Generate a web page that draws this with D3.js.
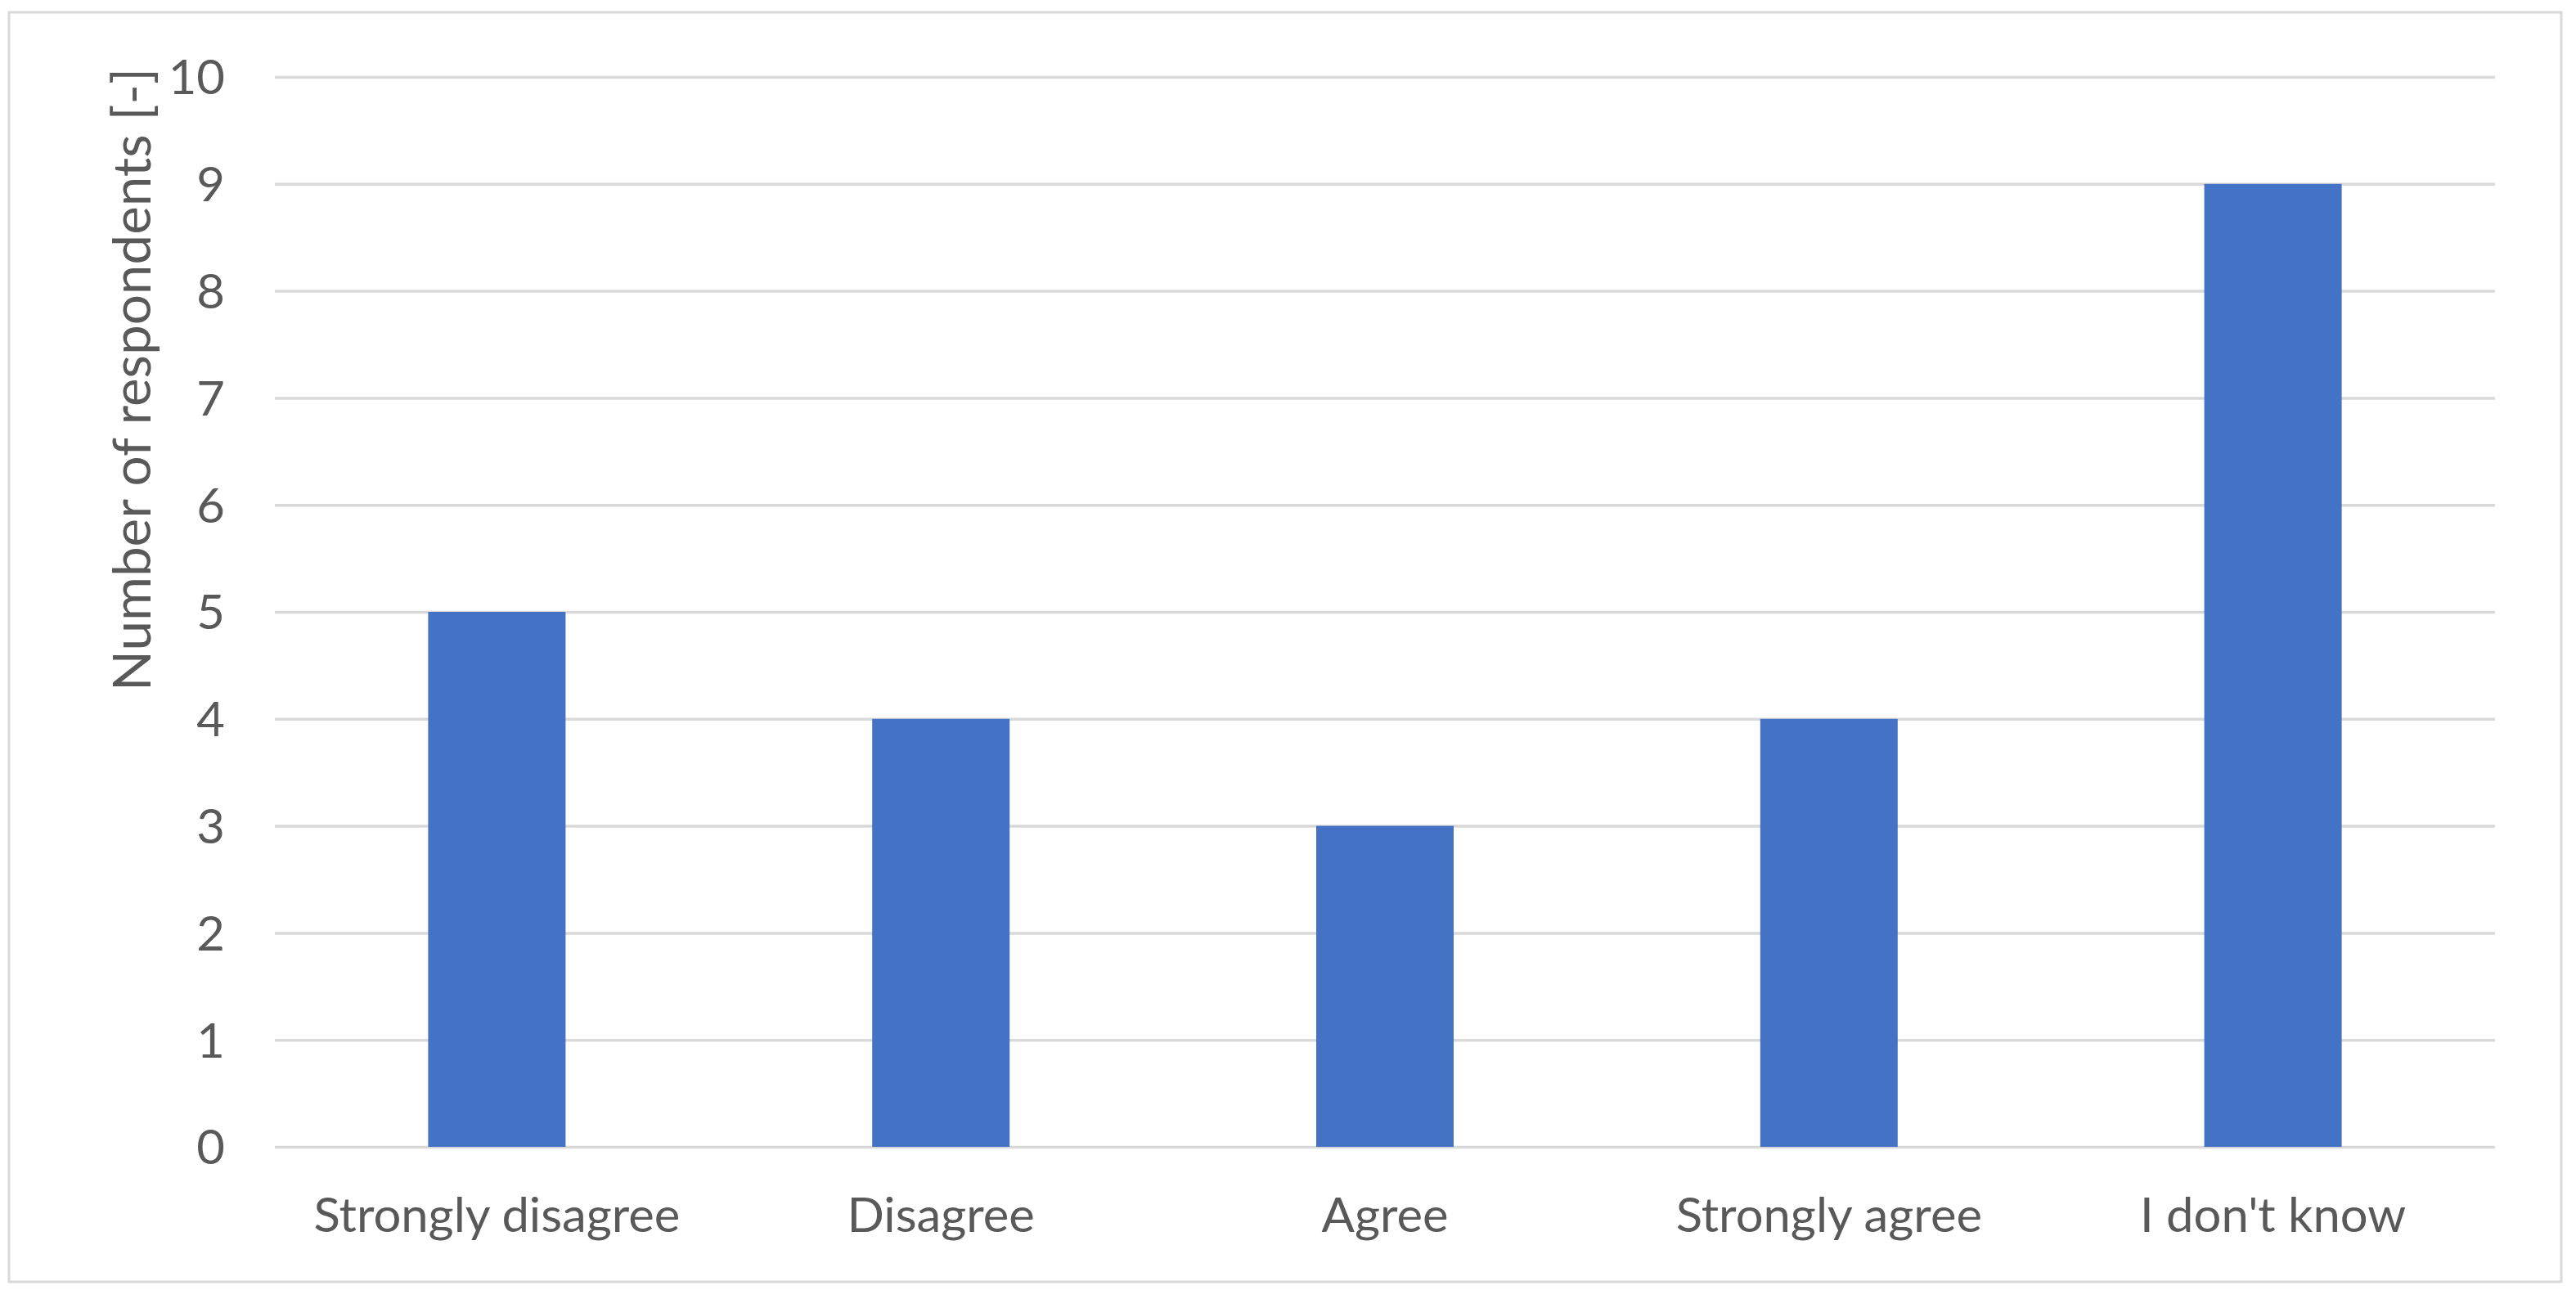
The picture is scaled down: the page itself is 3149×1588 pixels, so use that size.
<!DOCTYPE html>
<html>
<head>
<meta charset="utf-8">
<script src="https://cdn.jsdelivr.net/npm/d3@7"></script>
<style>
  html, body { margin: 0; padding: 0; background: #ffffff; }
  svg { display: block; }
</style>
</head>
<body>
<script>
// ---- data ----
const categories = ["Strongly disagree", "Disagree", "Agree", "Strongly agree", "I don't know"];
const values = [5, 4, 3, 4, 9];
const yTicks = [0, 1, 2, 3, 4, 5, 6, 7, 8, 9, 10];
const yTitle = "Number of respondents [-]";

// ---- layout ----
const W = 3149, H = 1588;
const plot = { left: 336, right: 3050, top: 94, bottom: 1402 };
const FONT = "Lato, 'Open Sans', sans-serif";
const TEXT = "#595959";
const GRID = "#d9d9d9";
const BAR = "#4472C4";

const svg = d3.select("body").append("svg").attr("width", W).attr("height", H);

svg.append("rect").attr("x", 0).attr("y", 0).attr("width", W).attr("height", H).attr("fill", "#fff");
svg.append("rect")
  .attr("x", 11).attr("y", 15).attr("width", 3131 - 11).attr("height", 1567 - 15)
  .attr("fill", "none").attr("stroke", GRID).attr("stroke-width", 3);

const x = d3.scaleBand().domain(categories).range([plot.left, plot.right])
  .paddingInner(0.6905).paddingOuter(0.34525);
const y = d3.scaleLinear().domain([0, 10]).range([plot.bottom, plot.top]);

// gridlines via axis
const yGrid = svg.append("g").attr("transform", `translate(${plot.left},0)`)
  .call(d3.axisLeft(y).tickValues(yTicks).tickSize(-(plot.right - plot.left)).tickFormat(""));
yGrid.select(".domain").remove();
yGrid.selectAll(".tick line").attr("stroke", GRID).attr("stroke-width", 3.5);

// y tick labels via axis
const yAxis = svg.append("g").attr("transform", `translate(275,0)`)
  .call(d3.axisLeft(y).tickValues(yTicks).tickSize(0).tickPadding(0).tickFormat(d3.format("d")));
yAxis.select(".domain").remove();
yAxis.selectAll(".tick text")
  .attr("font-family", FONT).attr("font-size", 58).attr("fill", TEXT)
  .attr("x", 0).attr("dy", "0.36em").attr("text-anchor", "end");

// bars
svg.append("g").selectAll("rect").data(values).join("rect")
  .attr("x", (d, i) => x(categories[i]))
  .attr("width", x.bandwidth())
  .attr("y", d => y(d))
  .attr("height", d => y(0) - y(d))
  .attr("fill", BAR);

// x labels via axis
const xAxis = svg.append("g").attr("transform", `translate(0,1506)`)
  .call(d3.axisBottom(x).tickSize(0).tickPadding(0));
xAxis.select(".domain").remove();
const xTexts = xAxis.selectAll(".tick text")
  .attr("font-family", FONT).attr("font-size", 58).attr("fill", TEXT)
  .attr("y", 0).attr("dy", 0).attr("text-anchor", "middle");

// horizontal compression to mimic a narrower face (Calibri-like)
let k = 1;
xTexts.each(function(d) {
  if (d === categories[0]) k = 448 / this.getComputedTextLength();
});
xTexts.each(function() {
  const w = this.getComputedTextLength();
  d3.select(this).attr("textLength", w * k).attr("lengthAdjust", "spacingAndGlyphs");
});
yAxis.selectAll(".tick text").each(function() {
  const w = this.getComputedTextLength();
  d3.select(this).attr("textLength", w * k).attr("lengthAdjust", "spacingAndGlyphs");
});

// y title
const t = svg.append("text")
  .attr("transform", `translate(184,464) rotate(-90)`)
  .attr("text-anchor", "middle")
  .attr("font-family", FONT).attr("font-size", 64).attr("fill", TEXT)
  .text(yTitle);
const tw = t.node().getComputedTextLength();
t.attr("textLength", 762).attr("lengthAdjust", "spacingAndGlyphs");
</script>
</body>
</html>
